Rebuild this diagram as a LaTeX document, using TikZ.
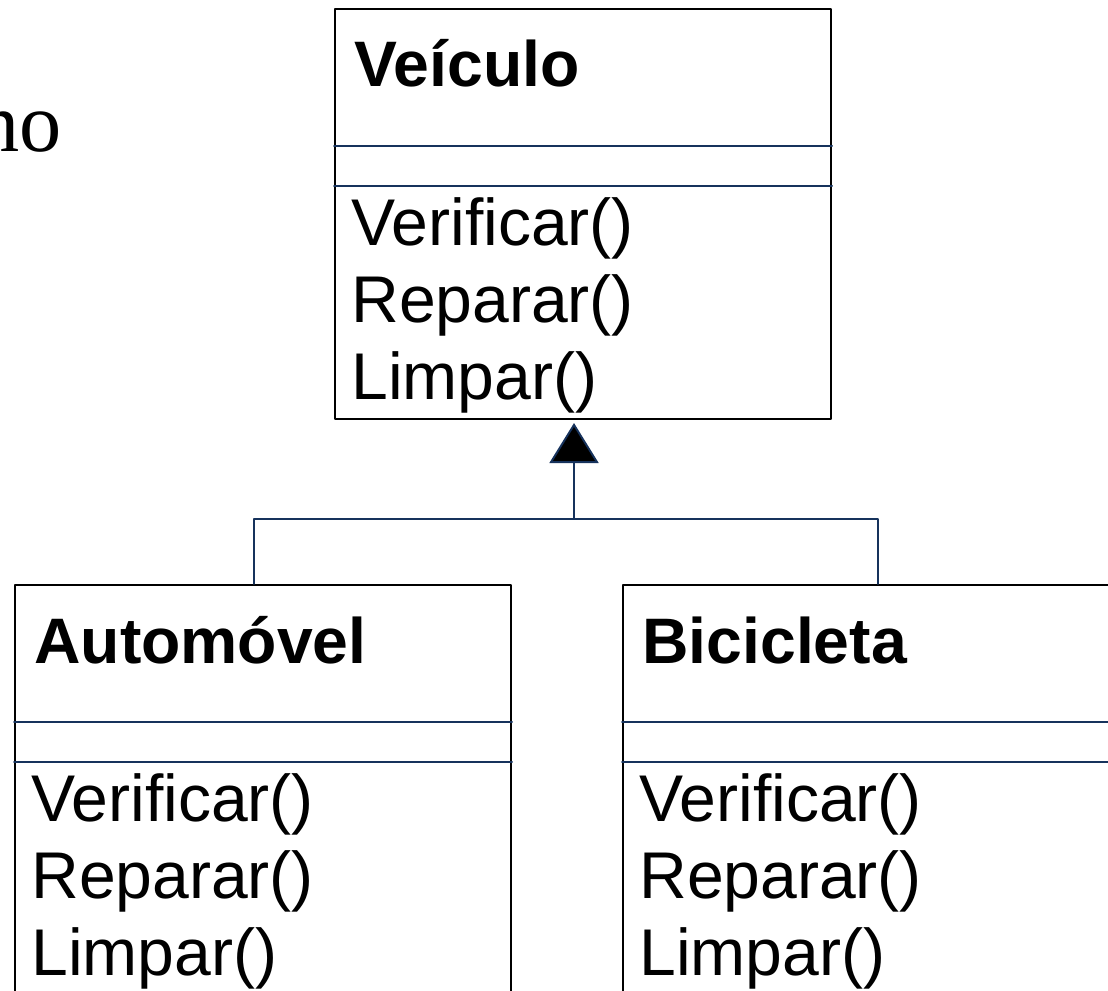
\documentclass[tikz,border=0pt]{standalone}
\usepackage{fontspec}
\setmainfont{Liberation Sans}
\newfontfamily\serifa{Liberation Serif}
\usetikzlibrary{calc,arrows.meta}
\definecolor{azulUML}{RGB}{22,50,92}

\begin{document}
\begin{tikzpicture}[x=0.02cm,y=-0.02cm,line cap=round,line join=round,
  classe/.style={draw=black,line width=1.2pt,minimum width=9.92cm,minimum height=8.2cm,inner sep=0pt,anchor=north west},
  nome/.style={font=\bfseries\fontsize{36.6}{44}\selectfont,anchor=base west,inner sep=0pt},
  metodo/.style={font=\fontsize{37.6}{45}\selectfont,anchor=base west,inner sep=0pt},
  divisor/.style={draw=azulUML,line width=1.1pt},
  heranca/.style={draw=azulUML,line width=1.1pt,-{Triangle[length=0.8cm,width=0.98cm,fill=black]}}]
\useasboundingbox (0,0) rectangle (1108,990);
% resto do titulo do slide
\node[font=\serifa\fontsize{48}{56}\selectfont,anchor=base east,inner sep=0pt] (resto) at (62,152) {no};
% classes
\node[classe] (veiculo) at (334,8) {};
\node[classe] (automovel) at (14,584) {};
\node[classe] (bicicleta) at (622,584) {};
\foreach \c/\t in {veiculo/Veículo,automovel/Automóvel,bicicleta/Bicicleta}{
  \node[nome] (\c-nome) at ($(\c.north west)+(20,79)$) {\t};
  \draw[divisor] ($(\c.north west)+(0,138)$) -- ($(\c.north east)+(0,138)$);
  \draw[divisor] ($(\c.north west)+(0,178)$) -- ($(\c.north east)+(0,178)$);
  \foreach \m [count=\i] in {Verificar(),Reparar(),Limpar()}
    \node[metodo] (\c-m\i) at ($(\c.north west)+(17,160+77*\i)$) {\m};
}
% heranca
\coordinate (juncao) at (574,519);
\coordinate (ligA) at (254,584);
\coordinate (ligB) at (878,584);
\draw[heranca] (juncao) -- ($(juncao |- veiculo.south)+(0,3)$);
\draw[divisor] (ligA) |- (juncao) -| (ligB);
\end{tikzpicture}
\end{document}
